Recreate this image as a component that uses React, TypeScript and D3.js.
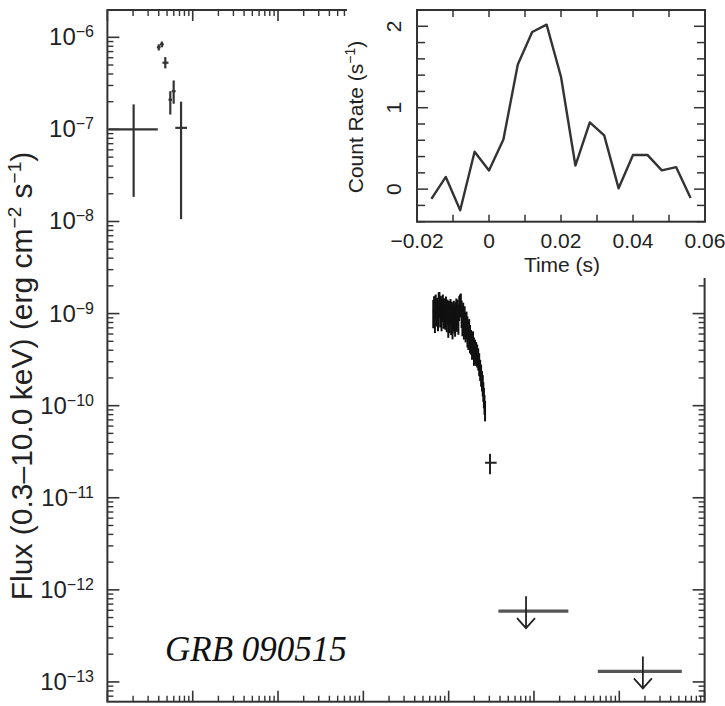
import React from "react";
import * as d3 from "d3";

// ---------- main light curve data ----------
const xDomain = [0.01, 1e5];
const yDomain = [6.1e-14, 1.98e-6];
const yDecades = [-13, -12, -11, -10, -9, -8, -7, -6];

// BAT points (converted flux)
const batTime = [0.0203, 0.0400, 0.0435, 0.0477, 0.0546, 0.0598, 0.073];
const batTimeLo = [0.0104, 0.0380, 0.0412, 0.0442, 0.0520, 0.0568, 0.0625];
const batTimeHi = [0.039, 0.0420, 0.0458, 0.0520, 0.0572, 0.0630, 0.0858];
const batFlux = [1.0e-7, 7.8e-7, 8.4e-7, 5.3e-7, 2.1e-7, 2.6e-7, 1.04e-7];
const batFluxLo = [1.85e-8, 7.2e-7, 7.8e-7, 4.6e-7, 1.45e-7, 1.9e-7, 1.06e-8];
const batFluxHi = [1.87e-7, 8.4e-7, 9.0e-7, 6.1e-7, 2.6e-7, 3.4e-7, 2.0e-7];

// XRT points (flux in units of 1e-10 erg cm^-2 s^-1)
const xrtTime = [66, 67.5, 69, 70.5, 72, 73.5, 75, 76.5, 78, 79.5,
  81, 82.5, 84, 85.5, 87, 88.5, 90, 91.5, 93, 95,
  97, 99, 101, 103, 105, 107, 109, 111, 113, 115,
  117, 119, 121, 123, 125, 127, 130, 133, 136, 139,
  142, 145, 148, 151, 154, 158, 162, 166, 170, 174,
  178, 183, 188, 193, 198, 204, 210, 216, 222, 228,
  234, 240, 246, 251, 255, 259, 263, 267];
const xrtFlux10 = [10.5, 11.8, 9.6, 12.4, 10.8, 11.5, 9.9, 12.9, 13.2, 10.7,
  11.9, 10.2, 11.4, 12.1, 10.6, 9.8, 11.1, 10.4, 11.7, 9.5,
  10.9, 8.8, 10.3, 9.4, 11.0, 9.1, 10.2, 8.6, 9.7, 10.6,
  9.3, 8.9, 10.1, 11.3, 9.6, 10.8, 9.2, 11.9, 12.6, 13.0,
  10.4, 9.0, 9.8, 8.4, 8.9, 7.6, 7.9, 6.8, 6.2, 6.6,
  5.6, 5.1, 4.7, 4.9, 4.1, 4.0, 3.8, 3.6, 3.3, 2.9,
  2.5, 2.2, 1.9, 1.7, 1.45, 1.25, 1.05, 0.9];
const xrtErr = [0.34, 0.31, 0.36, 0.30, 0.33, 0.29, 0.35, 0.32, 0.30, 0.34,
  0.31, 0.37, 0.29, 0.33, 0.35, 0.30, 0.32, 0.36, 0.31, 0.34,
  0.30, 0.38, 0.33, 0.35, 0.31, 0.36, 0.32, 0.39, 0.34, 0.30,
  0.35, 0.37, 0.32, 0.29, 0.34, 0.31, 0.36, 0.30, 0.28, 0.27,
  0.33, 0.37, 0.34, 0.38, 0.35, 0.36, 0.33, 0.37, 0.35, 0.32,
  0.34, 0.30, 0.33, 0.31, 0.34, 0.30, 0.29, 0.28, 0.27, 0.28,
  0.26, 0.27, 0.25, 0.26, 0.24, 0.25, 0.24, 0.25];

// late XRT point
const lateTime = [305];
const lateTimeLo = [267];
const lateTimeHi = [365];
const lateFlux = [2.4e-11];
const lateFluxLo = [1.8e-11];
const lateFluxHi = [3.0e-11];

// upper limits
const ulTime = [807, 18900];
const ulTimeLo = [383, 5600];
const ulTimeHi = [2530, 54000];
const ulFlux = [5.86e-13, 1.3e-13];

// ---------- inset data ----------
const insetXDomain = [-0.02, 0.06];
const insetYDomain = [-0.4, 2.2];
const insetXTicks = [-0.02, 0, 0.02, 0.04, 0.06];
const insetXTickLabels = ["\u22120.02", "0", "0.02", "0.04", "0.06"];
const insetYTicks = [0, 1, 2];
const countTime = [-0.016, -0.012, -0.008, -0.004, 0, 0.004, 0.008, 0.012, 0.016, 0.020,
  0.024, 0.028, 0.032, 0.036, 0.040, 0.044, 0.048, 0.052, 0.056];
const countRate = [-0.12, 0.15, -0.26, 0.46, 0.23, 0.61, 1.53, 1.93, 2.02, 1.38,
  0.29, 0.82, 0.66, 0.01, 0.42, 0.42, 0.23, 0.27, -0.11];

const AX = "#333";
const FONT = "'Liberation Sans', Arial, Helvetica, sans-serif";

export default function App() {
  const L = 107.4, R = 704.6, T = 10, B = 701.7;
  const x = d3.scaleLog().domain(xDomain).range([L, R]);
  const y = d3.scaleLog().domain(yDomain).range([B, T]);

  const xMinor: number[] = [];
  const xMajor: number[] = [];
  for (let e = -2; e <= 5; e++) {
    xMajor.push(Math.pow(10, e));
    if (e < 5) for (let k = 2; k <= 9; k++) xMinor.push(k * Math.pow(10, e));
  }
  const yMinor: number[] = [];
  for (let e = -14; e <= -6; e++) {
    for (let k = 2; k <= 9; k++) {
      const v = k * Math.pow(10, e);
      if (v > yDomain[0] && v < yDomain[1]) yMinor.push(v);
    }
  }

  // inset
  const iL = 417, iR = 705, iT = 10, iB = 221.7;
  const ix = d3.scaleLinear().domain(insetXDomain).range([iL, iR]);
  const iy = d3.scaleLinear().domain(insetYDomain).range([iB, iT]);
  const ixMinor = d3.range(-0.02, 0.0601, 0.01);
  const iyMinor = d3.range(-0.4, 2.2001, 0.2);
  const line = d3.line<number>().x((_, i) => ix(countTime[i])).y((d) => iy(d));

  // xrt time half-widths from neighbour midpoints
  const xrtLo = xrtTime.map((t, i) =>
    i === 0 ? t - (xrtTime[1] - xrtTime[0]) / 2 : (t + xrtTime[i - 1]) / 2);
  const xrtHi = xrtTime.map((t, i) =>
    i === xrtTime.length - 1 ? t + (t - xrtTime[i - 1]) / 2 : (t + xrtTime[i + 1]) / 2);

  return (
    <div style={{ position: "absolute", left: 0, top: 0 }}>
      <svg width={725} height={706} style={{ display: "block", background: "#fff" }}>
        {/* main frame */}
        <rect x={L} y={T} width={R - L} height={B - T} fill="none" stroke={AX} strokeWidth={2} />
        {/* x ticks bottom & top */}
        {xMajor.map((v, i) => (
          <g key={"xM" + i} stroke={AX} strokeWidth={1.6}>
            <line x1={x(v)} x2={x(v)} y1={B} y2={B - 11} />
            <line x1={x(v)} x2={x(v)} y1={T} y2={T + 11} />
          </g>
        ))}
        {xMinor.map((v, i) => (
          <g key={"xm" + i} stroke={AX} strokeWidth={1.4}>
            <line x1={x(v)} x2={x(v)} y1={B} y2={B - 6} />
            <line x1={x(v)} x2={x(v)} y1={T} y2={T + 6} />
          </g>
        ))}
        {/* y ticks left & right */}
        {yDecades.map((e, i) => (
          <g key={"yM" + i} stroke={AX} strokeWidth={1.6}>
            <line x1={L} x2={L + 12} y1={y(Math.pow(10, e))} y2={y(Math.pow(10, e))} />
            <line x1={R} x2={R - 12} y1={y(Math.pow(10, e))} y2={y(Math.pow(10, e))} />
          </g>
        ))}
        {yMinor.map((v, i) => (
          <g key={"ym" + i} stroke={AX} strokeWidth={1.4}>
            <line x1={L} x2={L + 6} y1={y(v)} y2={y(v)} />
            <line x1={R} x2={R - 6} y1={y(v)} y2={y(v)} />
          </g>
        ))}
        {/* y tick labels */}
        {yDecades.map((e, i) => (
          <text key={"yl" + i} x={94} y={y(Math.pow(10, e)) + 8} textAnchor="end"
            fontFamily={FONT} fontSize={24} fill="#222">
            10<tspan dy={-8} fontSize={16}>{"\u2212" + Math.abs(e)}</tspan>
          </text>
        ))}
        {/* y axis title */}
        <text transform="translate(32,376) rotate(-90)" textAnchor="middle"
          fontFamily={FONT} fontSize={30} fill="#222">
          Flux (0.3–10.0 keV) (erg cm<tspan dy={-11} fontSize={19}>{"\u22122"}</tspan>
          <tspan dy={11}> s</tspan><tspan dy={-11} fontSize={19}>{"\u22121"}</tspan>
          <tspan dy={11}>)</tspan>
        </text>

        {/* BAT points */}
        {batTime.map((t, i) => (
          <g key={"bat" + i} stroke="#333" strokeWidth={2.2}>
            <line x1={x(batTimeLo[i])} x2={x(batTimeHi[i])} y1={y(batFlux[i])} y2={y(batFlux[i])} />
            <line x1={x(t)} x2={x(t)} y1={y(batFluxLo[i])} y2={y(batFluxHi[i])} />
          </g>
        ))}
        {/* XRT points */}
        {xrtTime.map((t, i) => {
          const f = xrtFlux10[i] * 1e-10;
          return (
            <g key={"xrt" + i} stroke="#111" strokeWidth={2}>
              <line x1={x(xrtLo[i])} x2={x(xrtHi[i])} y1={y(f)} y2={y(f)} />
              <line x1={x(t)} x2={x(t)} y1={y(f * (1 - xrtErr[i]))} y2={y(f * (1 + xrtErr[i]))} />
            </g>
          );
        })}
        {lateTime.map((t, i) => (
          <g key={"late" + i} stroke="#222" strokeWidth={2}>
            <line x1={x(lateTimeLo[i])} x2={x(lateTimeHi[i])} y1={y(lateFlux[i])} y2={y(lateFlux[i])} />
            <line x1={x(t)} x2={x(t)} y1={y(lateFluxLo[i])} y2={y(lateFluxHi[i])} />
          </g>
        ))}
        {/* upper limits */}
        {ulTime.map((t, i) => {
          const cx = x(t), cy = y(ulFlux[i]);
          return (
            <g key={"ul" + i} fill="none">
              <line x1={x(ulTimeLo[i])} x2={x(ulTimeHi[i])} y1={cy} y2={cy} stroke="#555" strokeWidth={3.2} />
              <line x1={cx} x2={cx} y1={cy - 15} y2={cy + 17} stroke="#222" strokeWidth={1.8} />
              <polyline points={`${cx - 9},${cy + 7} ${cx},${cy + 17} ${cx + 9},${cy + 7}`} stroke="#222" strokeWidth={1.8} />
            </g>
          );
        })}
        {/* GRB label */}
        <text x={165} y={661} fontFamily="'Liberation Serif', 'Times New Roman', serif" fontStyle="italic"
          fontSize={35} fill="#111">GRB 090515</text>

        {/* inset background */}
        <rect x={347} y={0} width={378} height={278} fill="#fff" />
        <rect x={iL} y={iT} width={iR - iL} height={iB - iT} fill="none" stroke={AX} strokeWidth={2} />
        {ixMinor.map((v, i) => (
          <g key={"ix" + i} stroke={AX} strokeWidth={1.5}>
            <line x1={ix(v)} x2={ix(v)} y1={iB} y2={iB - 7} />
            <line x1={ix(v)} x2={ix(v)} y1={iT} y2={iT + 7} />
          </g>
        ))}
        {iyMinor.map((v, i) => {
          const major = Math.abs(v - Math.round(v)) < 1e-6;
          const len = major ? 11 : 8;
          return (
            <g key={"iy" + i} stroke={AX} strokeWidth={1.5}>
              <line x1={iL} x2={iL + len} y1={iy(v)} y2={iy(v)} />
              <line x1={iR} x2={iR - len} y1={iy(v)} y2={iy(v)} />
            </g>
          );
        })}
        <path d={line(countRate) || ""} fill="none" stroke="#333" strokeWidth={2.4} strokeLinejoin="round" />
        {insetXTicks.map((v, i) => (
          <text key={"ixl" + i} x={ix(v)} y={248} textAnchor="middle" fontFamily={FONT} fontSize={21} fill="#222">
            {insetXTickLabels[i]}
          </text>
        ))}
        {insetYTicks.map((v, i) => (
          <text key={"iyl" + i} transform={`translate(401,${iy(v)}) rotate(-90)`} textAnchor="middle"
            fontFamily={FONT} fontSize={21} fill="#222">{String(v)}</text>
        ))}
        <text x={562} y={272} textAnchor="middle" fontFamily={FONT} fontSize={21} fill="#222">Time (s)</text>
        <text transform="translate(363,117) rotate(-90)" textAnchor="middle" fontFamily={FONT} fontSize={21} fill="#222">
          Count Rate (s<tspan dy={-8} fontSize={14}>{"\u22121"}</tspan><tspan dy={8}>)</tspan>
        </text>
      </svg>
    </div>
  );
}
